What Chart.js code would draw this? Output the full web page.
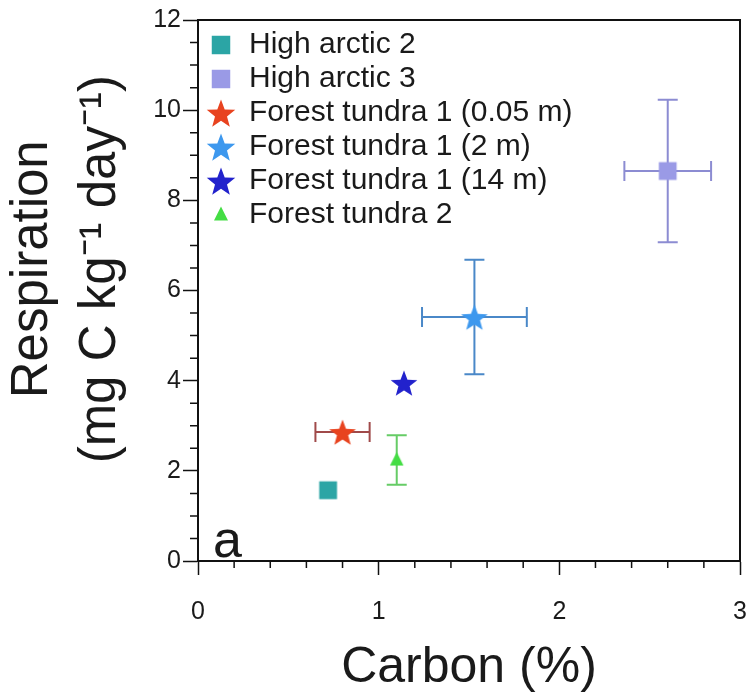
<!DOCTYPE html>
<html>
<head>
<meta charset="utf-8">
<script src="https://cdn.jsdelivr.net/npm/chart.js@4.4.1/dist/chart.umd.min.js"></script>
<style>
  html, body { margin: 0; padding: 0; background: #fff; }
  #wrap { width: 750px; height: 698px; }
</style>
</head>
<body>
<div id="wrap"><canvas id="respChart"></canvas></div>
<script>
// values
const sites = [
  "High arctic 2",
  "High arctic 3",
  "Forest tundra 1 (0.05 m)",
  "Forest tundra 1 (2 m)",
  "Forest tundra 1 (14 m)",
  "Forest tundra 2"
];
const carbon = [0.72, 2.60, 0.80, 1.53, 1.14, 1.10];
const respiration = [1.57, 8.65, 2.86, 5.41, 3.95, 2.24];
const carbonErr = [0, 0.24, 0.15, 0.29, 0, 0];
const respirationErr = [0, 1.58, 0, 1.27, 0, 0.55];
const xTicks = [0, 1, 2, 3];
const yTicks = [0, 2, 4, 6, 8, 10, 12];

const shapes = ["square", "square", "star", "star", "star", "triangle"];
const fills = ["#2ba5a5", "#9a9ae6", "#e8431f", "#3d98ee", "#2222cc", "#44dd44"];
const barColors = ["#2ba5a5", "#8c8cd2", "#a04a4a", "#4a88c8", "#2222cc", "#66cc66"];

// shift moves the glyph right inside its canvas (legend column)
function makeMarker(shape, color, size, shift) {
  shift = shift || 0;
  const c = document.createElement("canvas");
  c.width = size + shift * 2; c.height = size;
  const g = c.getContext("2d");
  const m = size / 2, mx = size / 2 + shift * 2;
  g.fillStyle = color;
  g.beginPath();
  if (shape === "square") {
    const s = size * 0.66;
    g.rect(mx - s / 2, m - s / 2, s, s);
  } else if (shape === "triangle") {
    const s = size * 0.5;
    g.moveTo(mx, m - s * 0.6);
    g.lineTo(mx + s / 2, m + s * 0.4);
    g.lineTo(mx - s / 2, m + s * 0.4);
  } else {
    const R = size / 2 - 1, r = R * 0.42;
    for (let k = 0; k < 10; k++) {
      const rad = k % 2 === 0 ? R : r;
      const a = -Math.PI / 2 + k * Math.PI / 5;
      g.lineTo(mx + rad * Math.cos(a), m + 1.5 + rad * Math.sin(a));
    }
  }
  g.closePath();
  g.fill();
  return c;
}

const plotMarkers = shapes.map((s, i) => makeMarker(s, fills[i], s === "star" ? 30 : 27));
const legendMarkers = shapes.map((s, i) => makeMarker(s, fills[i], s === "star" ? 32 : 28, 3));

Chart.defaults.font.family = "'Liberation Sans', Arial, Helvetica, sans-serif";
Chart.defaults.color = "#1a1a1a";

const errorBars = {
  id: "errorBars",
  beforeDatasetsDraw(chart) {
    const { ctx, scales: { x, y } } = chart;
    ctx.save();
    ctx.lineWidth = 2;
    const cap = 10;
    sites.forEach((_, i) => {
      const px = x.getPixelForValue(carbon[i]);
      const py = y.getPixelForValue(respiration[i]);
      ctx.strokeStyle = barColors[i];
      ctx.beginPath();
      if (carbonErr[i] > 0) {
        const x0 = x.getPixelForValue(carbon[i] - carbonErr[i]);
        const x1 = x.getPixelForValue(carbon[i] + carbonErr[i]);
        ctx.moveTo(x0, py); ctx.lineTo(x1, py);
        ctx.moveTo(x0, py - cap); ctx.lineTo(x0, py + cap);
        ctx.moveTo(x1, py - cap); ctx.lineTo(x1, py + cap);
      }
      if (respirationErr[i] > 0) {
        const y0 = y.getPixelForValue(respiration[i] - respirationErr[i]);
        const y1 = y.getPixelForValue(respiration[i] + respirationErr[i]);
        ctx.moveTo(px, y0); ctx.lineTo(px, y1);
        ctx.moveTo(px - cap, y0); ctx.lineTo(px + cap, y0);
        ctx.moveTo(px - cap, y1); ctx.lineTo(px + cap, y1);
      }
      ctx.stroke();
    });
    ctx.restore();
  },
  afterDraw(chart) {
    const { ctx, chartArea: a, scales: { x, y } } = chart;
    ctx.save();
    ctx.strokeStyle = "#111";
    ctx.lineWidth = 2;
    // top and right frame
    ctx.beginPath();
    ctx.moveTo(a.left, a.top); ctx.lineTo(a.right, a.top); ctx.lineTo(a.right, a.bottom);
    ctx.stroke();
    // minor ticks
    ctx.lineWidth = 1.5;
    ctx.beginPath();
    for (let v = 0.2; v < 3; v += 0.2) {
      if (Math.abs(v - Math.round(v)) < 0.01) continue;
      const px = x.getPixelForValue(v);
      ctx.moveTo(px, a.bottom); ctx.lineTo(px, a.bottom + 7);
    }
    for (let v = 0.5; v < 12; v += 0.5) {
      if (Math.abs(v / 2 - Math.round(v / 2)) < 0.01) continue;
      const py = y.getPixelForValue(v);
      ctx.moveTo(a.left, py); ctx.lineTo(a.left - 8, py);
    }
    ctx.stroke();
    // panel letter
    ctx.fillStyle = "#1a1a1a";
    ctx.font = "52px 'Liberation Sans', Arial, sans-serif";
    ctx.textBaseline = "alphabetic";
    ctx.fillText("a", a.left + 15, a.bottom - 4);
    ctx.restore();
  }
};

const ctx = document.getElementById("respChart").getContext("2d");

new Chart(ctx, {
  type: "scatter",
  data: {
    datasets: sites.map((name, i) => ({
      label: name,
      data: [{ x: carbon[i], y: respiration[i] }],
      pointStyle: plotMarkers[i],
      backgroundColor: fills[i],
      borderColor: fills[i]
    }))
  },
  options: {
    responsive: true,
    maintainAspectRatio: false,
    animation: false,
    layout: { padding: { top: 20, right: 10, left: 0, bottom: 0 } },
    plugins: {
      tooltip: { enabled: false },
      legend: {
        position: "chartArea",
        align: "start",
        title: { display: true, text: "", padding: 0, font: { size: 20, lineHeight: 1.3 } },
        labels: {
          usePointStyle: true,
          pointStyleWidth: 32,
          boxHeight: 30,
          padding: 4,
          color: "#1a1a1a",
          font: { size: 30 },
          generateLabels(chart) {
            const items = Chart.defaults.plugins.legend.labels.generateLabels(chart);
            items.forEach((it, i) => { it.pointStyle = legendMarkers[i]; });
            return items;
          }
        }
      }
    },
    scales: {
      x: {
        type: "linear",
        min: xTicks[0],
        max: xTicks[xTicks.length - 1],
        afterBuildTicks(scale) { scale.ticks = xTicks.map(v => ({ value: v })); },
        afterFit(scale) { scale.height = 137; scale.paddingLeft = 0; scale.paddingRight = 0; },
        ticks: { font: { size: 25 }, color: "#1a1a1a", padding: 22 },
        grid: { drawOnChartArea: false, tickLength: 14, tickColor: "#111", tickWidth: 1.5 },
        border: { display: true, color: "#111", width: 2 },
        title: {
          display: true,
          text: "Carbon (%)",
          color: "#1a1a1a",
          font: { size: 50, lineHeight: 1.2 },
          padding: { top: 0, bottom: 0 }
        }
      },
      y: {
        type: "linear",
        min: yTicks[0],
        max: yTicks[yTicks.length - 1],
        afterBuildTicks(scale) { scale.ticks = yTicks.map(v => ({ value: v })); },
        afterFit(scale) { scale.width = 198; },
        ticks: { font: { size: 25 }, color: "#1a1a1a", padding: 2 },
        grid: { drawOnChartArea: false, tickLength: 15, tickColor: "#111", tickWidth: 1.5 },
        border: { display: true, color: "#111", width: 2 },
        title: {
          display: true,
          // leading spaces lift the centred title a little, as in the figure
          text: ["   Respiration", "   (mg C kg\u207B\u00B9 day\u207B\u00B9)"],
          color: "#1a1a1a",
          font: { size: 51, lineHeight: 1.333 },
          padding: { top: -1, bottom: 0 }
        }
      }
    }
  },
  plugins: [errorBars]
});
</script>
</body>
</html>
